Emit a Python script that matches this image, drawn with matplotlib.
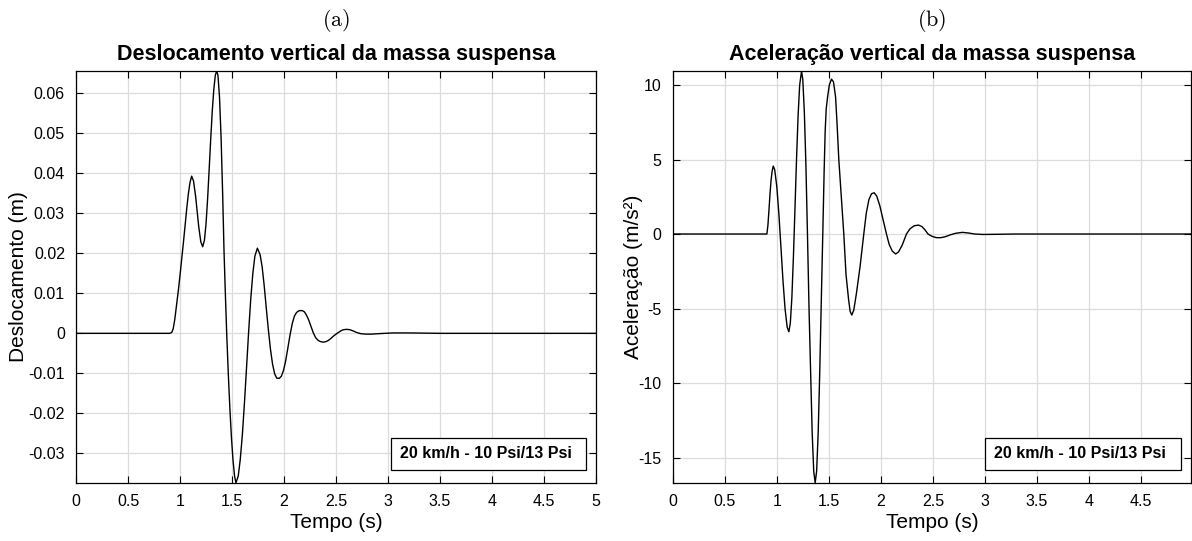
import matplotlib.pyplot as plt
from matplotlib.patches import Rectangle
from matplotlib.ticker import FixedLocator, FuncFormatter

plt.rcParams.update({
    "font.family": ["Liberation Sans", "DejaVu Sans"],
    "font.size": 11,
    "mathtext.fontset": "cm",
})

# ---- data (t in s) ----
t_desl = [0.0, 0.90, 0.92, 0.935, 0.95, 0.965, 0.984, 1.0, 1.016, 1.032, 1.048,
          1.064, 1.08, 1.096, 1.112, 1.13, 1.15, 1.165, 1.18, 1.20, 1.218,
          1.235, 1.25, 1.265, 1.28, 1.295, 1.31, 1.325, 1.34, 1.353, 1.365,
          1.38, 1.395, 1.41, 1.423, 1.436, 1.449, 1.465, 1.48, 1.495, 1.51,
          1.525, 1.538, 1.56, 1.58, 1.60, 1.62, 1.64, 1.66, 1.68, 1.70, 1.72,
          1.744, 1.77, 1.79, 1.81, 1.83, 1.85, 1.87, 1.89, 1.91, 1.93, 1.955,
          1.975, 1.995, 2.015, 2.035, 2.058, 2.08, 2.10, 2.12, 2.14, 2.16,
          2.176, 2.195, 2.215, 2.235, 2.26, 2.282, 2.305, 2.33, 2.355, 2.38,
          2.40, 2.425, 2.45, 2.475, 2.50, 2.522, 2.545, 2.57, 2.603, 2.635,
          2.665, 2.70, 2.74, 2.79, 2.84, 2.90, 2.97, 3.05, 3.2, 3.5, 5.0]
desl = [0.0, 0.0, 0.0002, 0.0012, 0.0035, 0.0067, 0.0107, 0.0145, 0.0185,
        0.0225, 0.0267, 0.0310, 0.0348, 0.0377, 0.0393, 0.0381, 0.0343,
        0.0305, 0.0267, 0.0229, 0.02165, 0.0233, 0.0273, 0.0334, 0.0408,
        0.0484, 0.0555, 0.0610, 0.0646, 0.0656, 0.0645, 0.0590, 0.0490,
        0.0350, 0.0208, 0.0100, 0.0000, -0.0105, -0.0190, -0.0262, -0.0318,
        -0.0358, -0.03735, -0.0357, -0.0314, -0.0252, -0.0173, -0.0085,
        0.0004, 0.0085, 0.0149, 0.0193, 0.0213, 0.0197, 0.0166, 0.0118,
        0.0062, 0.0008, -0.0040, -0.0077, -0.0101, -0.0112, -0.01125,
        -0.0107, -0.0093, -0.0070, -0.0040, -0.0004, 0.0025, 0.0043, 0.0052,
        0.0056, 0.0057, 0.00567, 0.0054, 0.0046, 0.0035, 0.0017, 0.0001,
        -0.0011, -0.0018, -0.0021, -0.0022, -0.0021, -0.0018, -0.0013,
        -0.0007, -0.0002, 0.0002, 0.0006, 0.0009, 0.0010, 0.0009, 0.0006,
        0.0002, -0.0001, -0.0002, -0.0002, -0.0001, 0.0, 0.0001, 0.0001,
        0.0, 0.0]

t_acel = [0.0, 0.905, 0.915, 0.925, 0.935, 0.945, 0.955, 0.966, 0.98, 1.00,
          1.02, 1.04, 1.06, 1.08, 1.10, 1.116, 1.13, 1.145, 1.16, 1.175,
          1.19, 1.205, 1.22, 1.238, 1.25, 1.265, 1.28, 1.295, 1.31, 1.325,
          1.34, 1.355, 1.369, 1.383, 1.398, 1.413, 1.428, 1.443, 1.455, 1.465,
          1.475, 1.49, 1.505, 1.526, 1.545, 1.565, 1.58, 1.596, 1.62, 1.644,
          1.665, 1.69, 1.705, 1.721, 1.74, 1.765, 1.80, 1.836, 1.86, 1.885,
          1.91, 1.935, 1.96, 1.99, 2.02, 2.054, 2.08, 2.11, 2.143, 2.17,
          2.205, 2.246, 2.28, 2.32, 2.361, 2.395, 2.425, 2.453, 2.49, 2.53,
          2.572, 2.62, 2.67, 2.72, 2.783, 2.84, 2.90, 2.98, 3.1, 3.3, 4.98]
acel = [0.0, 0.0, 0.6, 1.6, 2.7, 3.6, 4.2, 4.56, 4.32, 3.20, 1.37, -0.88,
        -3.17, -5.05, -6.25, -6.56, -5.99, -4.27, -1.50, 1.75, 5.07, 7.97,
        10.0, 10.94, 10.37, 8.16, 4.6, -0.06, -5.03, -9.2, -13.3, -15.92,
        -16.69, -15.92, -13.3, -9.2, -4.4, 0.3, 4.2, 6.9, 8.4, 9.3, 10.0,
        10.4, 10.2, 9.2, 7.3, 5.0, 2.5, 0.0, -2.7, -4.4, -5.2, -5.44, -5.1,
        -4.0, -2.2, 0.0, 1.4, 2.3, 2.7, 2.77, 2.55, 1.9, 1.0, 0.0, -0.7,
        -1.15, -1.34, -1.2, -0.75, 0.0, 0.35, 0.55, 0.60, 0.5, 0.27, 0.0,
        -0.15, -0.24, -0.25, -0.18, -0.05, 0.05, 0.11, 0.07, 0.0, -0.03,
        -0.02, 0.0, 0.0]

xticks_a = [0, 0.5, 1, 1.5, 2, 2.5, 3, 3.5, 4, 4.5, 5]
xticks_b = [0, 0.5, 1, 1.5, 2, 2.5, 3, 3.5, 4, 4.5]
yticks_a = [-0.03, -0.02, -0.01, 0, 0.01, 0.02, 0.03, 0.04, 0.05, 0.06]
yticks_b = [-15, -10, -5, 0, 5, 10]
legenda = "20 km/h - 10 Psi/13 Psi"


def fmt_num(v, pos=None):
    if abs(v) < 1e-12:
        return "0"
    return f"{v:g}"


def style_axes(ax, xticks, yticks):
    ax.xaxis.set_major_locator(FixedLocator(xticks))
    ax.yaxis.set_major_locator(FixedLocator(yticks))
    ax.xaxis.set_major_formatter(FuncFormatter(fmt_num))
    ax.yaxis.set_major_formatter(FuncFormatter(fmt_num))
    ax.tick_params(direction="in", top=True, right=True, length=5,
                   width=0.8, labelsize=11.5, pad=8)
    ax.grid(True, color="#dcdcdc", linewidth=0.9)
    ax.set_axisbelow(True)
    for s in ax.spines.values():
        s.set_linewidth(0.9)
    ax.set_xlabel("Tempo (s)", fontsize=15, labelpad=3)


def legend_box(ax, x0, x1):
    # caixa estilo MATLAB: texto alinhado a esquerda
    ax.add_patch(Rectangle((x0, 0.031), x1 - x0, 0.078, transform=ax.transAxes,
                           fc="white", ec="black", lw=0.9, zorder=5))
    ax.text(x0 + 0.018, 0.070, legenda, transform=ax.transAxes, ha="left",
            va="center", fontsize=11.5, fontweight="bold", zorder=6)


fig = plt.figure(figsize=(11.92, 5.41), dpi=100)

ax1 = fig.add_axes([76 / 1192, 1 - 482.7 / 541, 520 / 1192, 411.7 / 541])
ax1.plot(t_desl, desl, color="black", linewidth=1.0)
ax1.set_xlim(0, 5)
ax1.set_ylim(-0.03735, 0.0656)
style_axes(ax1, xticks_a, yticks_a)
ax1.set_ylabel("Deslocamento (m)", fontsize=15, labelpad=0)
ax1.set_title("Deslocamento vertical da massa suspensa", fontsize=15.5,
              fontweight="bold", pad=8)
legend_box(ax1, 0.606, 0.981)

ax2 = fig.add_axes([672.7 / 1192, 1 - 482.7 / 541, 518.3 / 1192, 411.7 / 541])
ax2.plot(t_acel, acel, color="black", linewidth=1.0)
ax2.set_xlim(0, 4.98)
ax2.set_ylim(-16.69, 10.94)
style_axes(ax2, xticks_b, yticks_b)
ax2.set_ylabel("Aceleração (m/s²)", fontsize=15, labelpad=-3)
ax2.set_title("Aceleração vertical da massa suspensa", fontsize=15.5,
              fontweight="bold", pad=8)
legend_box(ax2, 0.6026, 0.9807)

fig.text(336 / 1192, 1 - 20 / 541, r"$\mathrm{(a)}$", ha="center", va="center",
         fontsize=16)
fig.text(932 / 1192, 1 - 20 / 541, r"$\mathrm{(b)}$", ha="center", va="center",
         fontsize=16)

fig.savefig("out.png", dpi=100)
